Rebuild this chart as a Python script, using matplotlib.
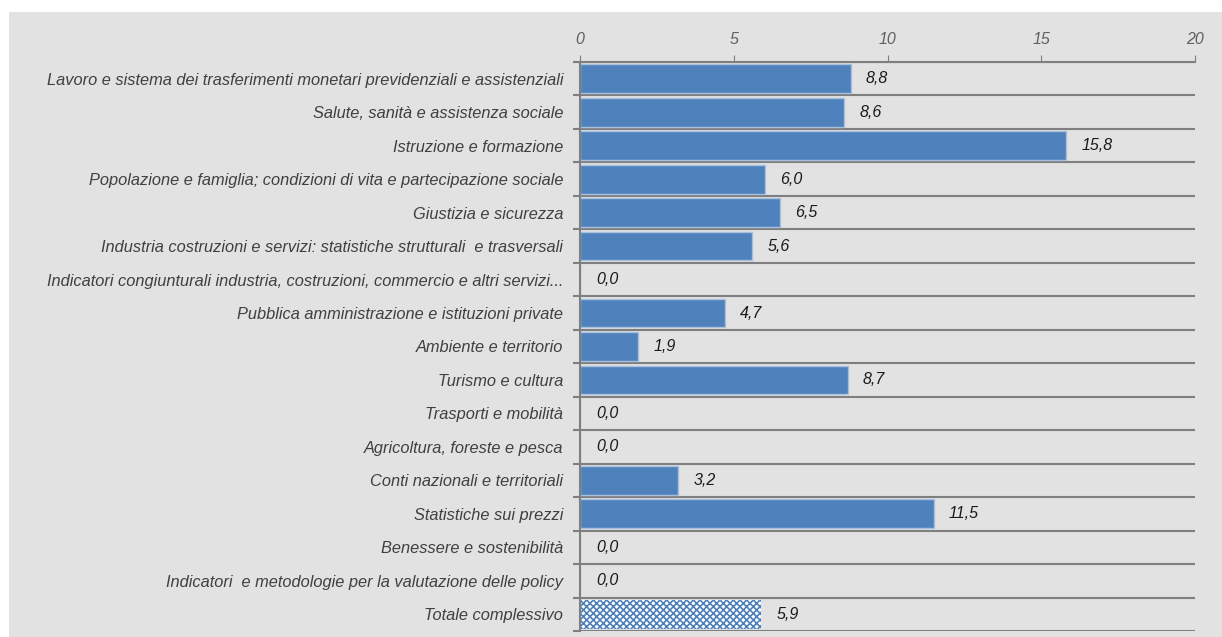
import matplotlib.pyplot as plt
from matplotlib.patches import Rectangle
import numpy as np

categorie = [
    'Lavoro e sistema dei trasferimenti monetari previdenziali e assistenziali',
    'Salute, sanità e assistenza sociale',
    'Istruzione e formazione',
    'Popolazione e famiglia; condizioni di vita e partecipazione sociale',
    'Giustizia e sicurezza',
    'Industria costruzioni e servizi: statistiche strutturali  e trasversali',
    'Indicatori congiunturali industria, costruzioni, commercio e altri servizi...',
    'Pubblica amministrazione e istituzioni private',
    'Ambiente e territorio',
    'Turismo e cultura',
    'Trasporti e mobilità',
    'Agricoltura, foreste e pesca',
    'Conti nazionali e territoriali',
    'Statistiche sui prezzi',
    'Benessere e sostenibilità',
    'Indicatori  e metodologie per la valutazione delle policy',
    'Totale complessivo',
]
valori = [8.8, 8.6, 15.8, 6.0, 6.5, 5.6, 0.0, 4.7, 1.9, 8.7, 0.0, 0.0, 3.2, 11.5, 0.0, 0.0, 5.9]
xticks = [0, 5, 10, 15, 20]

plt.rcParams['font.family'] = ['Liberation Sans', 'DejaVu Sans']
plt.rcParams['hatch.linewidth'] = 1.2

bg = '#e2e2e2'
blu = '#4f81bd'
fig = plt.figure(figsize=(12.22, 6.37), dpi=100)
fig.patch.set_facecolor('white')
# pannello grigio di sfondo
fig.add_artist(Rectangle((9 / 1222, 0), 1 - 9 / 1222, 1 - 12 / 637,
                         transform=fig.transFigure, facecolor=bg, edgecolor='none', zorder=-10))

ax = fig.add_axes([580 / 1222, 6 / 637, 615 / 1222, 569 / 637])
ax.set_facecolor('none')

y = np.arange(len(categorie))
n = len(categorie)
for i in range(n):
    if i == n - 1:
        ax.barh(y[i], valori[i], height=0.86, color='white', edgecolor=blu,
                hatch='xxxxx', linewidth=0, zorder=3)
    else:
        ax.barh(y[i], valori[i], height=0.86, color=blu, edgecolor='#a9c0dd',
                linewidth=1, zorder=3)
    ax.annotate(f'{valori[i]:.1f}'.replace('.', ','), (valori[i], y[i]),
                xytext=(11 if valori[i] > 0 else 12, 0), textcoords='offset points',
                va='center', ha='left', fontsize=11.5, style='italic', color='#1a1a1a')

ax.set_xlim(0, 20)
ax.set_ylim(n - 0.5, -0.5)
ax.xaxis.tick_top()
ax.set_xticks(xticks)
ax.set_xticklabels([str(t) for t in xticks], fontsize=11.5, style='italic', color='#606060')
ax.tick_params(axis='x', direction='out', length=5, color='#7f7f7f', pad=6)

ax.set_yticks(y)
ax.set_yticklabels(categorie, fontsize=11.8, style='italic', color='#404040')
ax.tick_params(axis='y', length=0, pad=12)
ax.set_yticks(np.arange(n + 1) - 0.5, minor=True)
ax.tick_params(axis='y', which='minor', length=5, direction='out', color='#7f7f7f', width=1.5)
ax.grid(axis='y', which='minor', color='#7f7f7f', linewidth=1.5, zorder=1)

for s in ['right', 'bottom']:
    ax.spines[s].set_visible(False)
ax.spines['top'].set_color('#7f7f7f')
ax.spines['top'].set_linewidth(1.5)
ax.spines['left'].set_color('#7f7f7f')
ax.spines['left'].set_linewidth(1.5)
ax.spines['left'].set_zorder(4)

fig.savefig('out.png', dpi=100)
